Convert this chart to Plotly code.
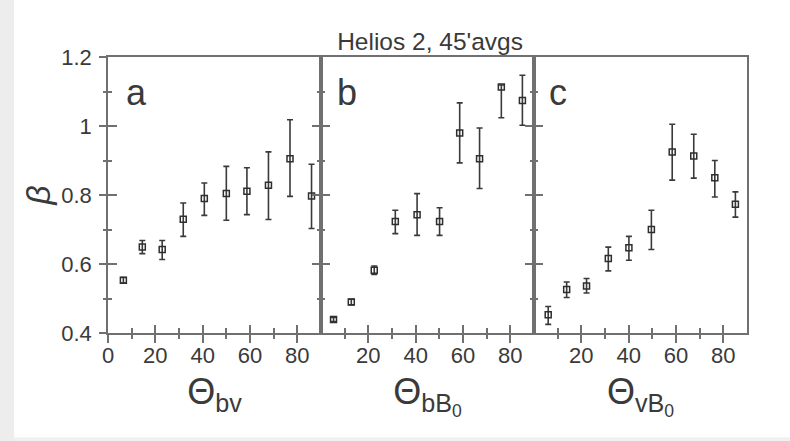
import plotly.graph_objects as go

# ---------------- data ----------------
theta_a = [6.5, 14.5, 22.9, 31.8, 40.7, 50.0, 58.7, 67.8, 76.9, 86.0]
beta_a = [0.553, 0.649, 0.642, 0.730, 0.790, 0.804, 0.811, 0.828, 0.905, 0.797]
err_up_a = [0.008, 0.019, 0.026, 0.047, 0.045, 0.079, 0.068, 0.097, 0.113, 0.092]
err_dn_a = [0.008, 0.019, 0.029, 0.050, 0.049, 0.077, 0.068, 0.099, 0.109, 0.094]

theta_b = [5.3, 12.8, 22.5, 31.4, 40.6, 50.1, 58.6, 67.0, 76.2, 85.1]
beta_b = [0.439, 0.490, 0.582, 0.723, 0.743, 0.723, 0.980, 0.905, 1.113, 1.074]
err_up_b = [0.006, 0.008, 0.012, 0.033, 0.061, 0.040, 0.087, 0.089, 0.006, 0.073]
err_dn_b = [0.006, 0.008, 0.012, 0.035, 0.060, 0.040, 0.087, 0.086, 0.089, 0.072]

theta_c = [6.0, 13.8, 22.2, 31.4, 40.1, 49.6, 58.4, 67.5, 76.4, 85.1]
beta_c = [0.453, 0.526, 0.536, 0.616, 0.647, 0.700, 0.925, 0.913, 0.850, 0.773]
err_up_c = [0.024, 0.022, 0.022, 0.033, 0.033, 0.056, 0.080, 0.063, 0.050, 0.036]
err_dn_c = [0.028, 0.023, 0.020, 0.036, 0.036, 0.058, 0.082, 0.064, 0.056, 0.037]

panel_letters = ["a", "b", "c"]
x_titles = ["Θ<sub>bv</sub>", "Θ<sub>bB<sub>0</sub></sub>", "Θ<sub>vB<sub>0</sub></sub>"]
y_title = "<i>β</i>"
title_text = "Helios 2, 45'avgs"

x_range = [0, 90]
y_range = [0.4, 1.2]
x_ticks_first = [0, 20, 40, 60, 80]
x_ticks_other = [20, 40, 60, 80]
x_minor = [10, 30, 50, 70]
y_ticks = [0.4, 0.6, 0.8, 1.0, 1.2]
y_ticklabels = ["0.4", "0.6", "0.8", "1", "1.2"]
y_minor = [0.5, 0.7, 0.9, 1.1]

# ---------------- styling ----------------
INK = "#3a3a3a"
AX = "#707070"
LW = 1.5
TICKFONT = dict(family="Liberation Sans, Arial", size=22, color=INK)

fig = go.Figure()
panels = [
    (theta_a, beta_a, err_up_a, err_dn_a, "x", "y"),
    (theta_b, beta_b, err_up_b, err_dn_b, "x2", "y2"),
    (theta_c, beta_c, err_up_c, err_dn_c, "x3", "y3"),
]
for th, be, up, dn, xa, ya in panels:
    fig.add_trace(go.Scatter(
        x=th, y=be, mode="markers", xaxis=xa, yaxis=ya, showlegend=False,
        marker=dict(symbol="square-open", size=6, color="#2e2e2e", line=dict(width=1.5, color="#2e2e2e")),
        error_y=dict(type="data", symmetric=False, array=up, arrayminus=dn,
                     color="#3a3a3a", thickness=1.6, width=3),
        cliponaxis=False,
    ))

# invisible helper traces so that the overlay axes (second set of ticks) get drawn
overlay_pairs = [
    (theta_a, beta_a, "x4", "y"), (theta_a, beta_a, "x", "y4"),
    (theta_b, beta_b, "x5", "y2"), (theta_c, beta_c, "x6", "y3"),
]
for th, be, xa, ya in overlay_pairs:
    fig.add_trace(go.Scatter(x=th, y=be, xaxis=xa, yaxis=ya, mode="markers",
                             marker=dict(opacity=0, size=1), hoverinfo="skip", showlegend=False))

domains = [[0, 1/3], [1/3, 2/3], [2/3, 1]]
layout = dict(
    width=790, height=441,
    margin=dict(l=108, r=43, t=57, b=108),
    paper_bgcolor="white", plot_bgcolor="white",
    showlegend=False,
)

for i in range(3):
    sx = "" if i == 0 else str(i + 1)
    tv = x_ticks_first if i == 0 else x_ticks_other
    # base x-axis: inside ticks + labels + title
    layout["xaxis" + sx] = dict(
        domain=domains[i], anchor="y" + sx, range=x_range,
        showline=True, linecolor=AX, linewidth=LW, mirror=True,
        showgrid=False, zeroline=False,
        tickmode="array", tickvals=tv, ticktext=[str(v) for v in tv],
        ticks="inside", ticklen=8, tickwidth=1.5, tickcolor=AX,
        minor=dict(tickmode="array", tickvals=x_minor, ticks="inside", ticklen=5, tickwidth=1.5, tickcolor=AX, showgrid=False),
        tickfont=TICKFONT, ticklabelstandoff=2,
        title=dict(text=x_titles[i], font=dict(family="Liberation Sans, Arial", size=36, color=INK), standoff=12),
    )
    # overlay x-axis: outside ticks (ticks cross the axis)
    layout["xaxis" + str(i + 4)] = dict(
        overlaying="x" + sx, anchor="y" + sx, range=x_range,
        showline=False, showgrid=False, zeroline=False, showticklabels=False,
        tickmode="array", tickvals=tv,
        ticks="outside", ticklen=9, tickwidth=1.5, tickcolor=AX,
        minor=dict(tickmode="array", tickvals=x_minor, ticks="outside", ticklen=5, tickwidth=1.5, tickcolor=AX, showgrid=False),
    )

layout["yaxis"] = dict(
    domain=[0, 1], anchor="x", range=y_range,
    showline=True, linecolor=AX, linewidth=LW, mirror="ticks",
    showgrid=False, zeroline=False,
    tickmode="array", tickvals=y_ticks, ticktext=y_ticklabels,
    ticks="inside", ticklen=9, tickwidth=1.5, tickcolor=AX,
    minor=dict(tickmode="array", tickvals=y_minor, ticks="inside", ticklen=4, tickwidth=1.5, tickcolor=AX, showgrid=False),
    tickfont=TICKFONT, ticklabelstandoff=10,
    title=dict(text=y_title, font=dict(family="Liberation Sans, Arial", size=34, color=INK), standoff=0),
)
layout["yaxis4"] = dict(
    overlaying="y", anchor="x", range=y_range,
    showline=False, showgrid=False, zeroline=False, showticklabels=False,
    tickmode="array", tickvals=y_ticks,
    ticks="outside", ticklen=8, tickwidth=1.5, tickcolor=AX,
    minor=dict(tickmode="array", tickvals=y_minor, ticks="outside", ticklen=4, tickwidth=1.5, tickcolor=AX, showgrid=False),
)
for i, mir in [(2, "ticks"), (3, True)]:
    layout["yaxis" + str(i)] = dict(
        domain=[0, 1], anchor="x" + str(i), range=y_range,
        showline=True, linecolor=AX, linewidth=LW, mirror=mir,
        showgrid=False, zeroline=False, showticklabels=False,
        tickmode="array", tickvals=y_ticks,
        ticks="inside", ticklen=9, tickwidth=1.5, tickcolor=AX,
        minor=dict(tickmode="array", tickvals=y_minor, ticks="inside", ticklen=4, tickwidth=1.5, tickcolor=AX, showgrid=False),
    )

fig.update_layout(**layout)

fig.update_layout(title=dict(
    text=title_text, x=0.504, xref="paper", xanchor="center",
    y=0.905, yref="container", yanchor="middle",
    font=dict(family="Liberation Sans, Arial", size=24.5, color=INK),
))

for i, letter in enumerate(panel_letters):
    sx = "" if i == 0 else str(i + 1)
    fig.add_annotation(
        text=letter, xref="x" + sx + " domain", yref="y" + sx + " domain",
        x=[0.075, 0.065, 0.062][i], y=0.873, xanchor="left", yanchor="middle",
        showarrow=False, font=dict(family="Liberation Sans, Arial", size=36, color=INK),
    )

# scan border decoration (light grey strips on the left / bottom)
fig.add_shape(type="rect", xref="paper", yref="paper", x0=-0.169, x1=-0.147, y0=-0.392, y1=1.207,
              fillcolor="#ededed", line=dict(width=0), layer="below")
fig.add_shape(type="rect", xref="paper", yref="paper", x0=-0.147, x1=1.068, y0=-0.392, y1=-0.378,
              fillcolor="#f0f0f0", line=dict(width=0), layer="below")

fig.write_html("out.html")
